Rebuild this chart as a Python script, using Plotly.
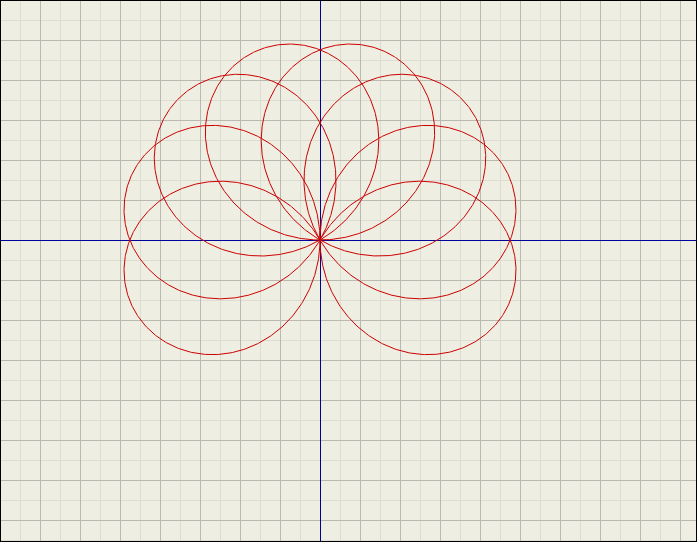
import numpy as np
import plotly.graph_objects as go

# Petals of the rose curve (direction of each petal tip, degrees)
petal_directions_deg = [195, 165, 135, 105, 75, 45, 15, -15]
petal_length = 5.0          # distance of petal tip from origin (grid units)
petal_half_width_deg = 75.0  # angular half-width of each petal

xs, ys = [], []
for phi in petal_directions_deg:
    a = np.linspace(-petal_half_width_deg, petal_half_width_deg, 401)
    r = petal_length * np.cos(np.radians(a) * 90.0 / petal_half_width_deg)
    th = np.radians(phi + a)
    xs.extend((r * np.cos(th)).tolist())
    ys.extend((r * np.sin(th)).tolist())

W, H = 697, 542
px_per_unit = 40.0
origin_px = (320, 240)
x0 = -origin_px[0] / px_per_unit
x1 = x0 + W / px_per_unit
y1 = origin_px[1] / px_per_unit
y0 = y1 - H / px_per_unit

bg = "#efeee2"
major = "#b9b9b1"
minor = "#dddcd2"
axis_blue = "#00009c"

fig = go.Figure(go.Scatter(x=xs, y=ys, mode="lines",
                           line=dict(color="#cc0000", width=1),
                           hoverinfo="skip", showlegend=False))

ax_common = dict(dtick=1, tick0=0, showgrid=True, gridcolor=major, gridwidth=1,
                 minor=dict(dtick=0.5, tick0=0, showgrid=True, gridcolor=minor, gridwidth=1),
                 zeroline=True, zerolinecolor=axis_blue, zerolinewidth=1,
                 showticklabels=False, ticks="", showline=False, fixedrange=True)

fig.update_layout(
    width=W, height=H,
    margin=dict(l=0, r=0, t=0, b=0),
    paper_bgcolor=bg, plot_bgcolor=bg,
    xaxis=dict(range=[x0, x1], **ax_common),
    yaxis=dict(range=[y0, y1], **ax_common),
    shapes=[dict(type="rect", xref="paper", yref="paper", x0=0, y0=0, x1=1, y1=1,
                 line=dict(color="black", width=2), layer="above")],
)

fig.write_html("out.html", config={"displayModeBar": False},
               post_script="document.body.style.margin='0';document.body.style.padding='0';document.body.style.overflow='hidden';")
